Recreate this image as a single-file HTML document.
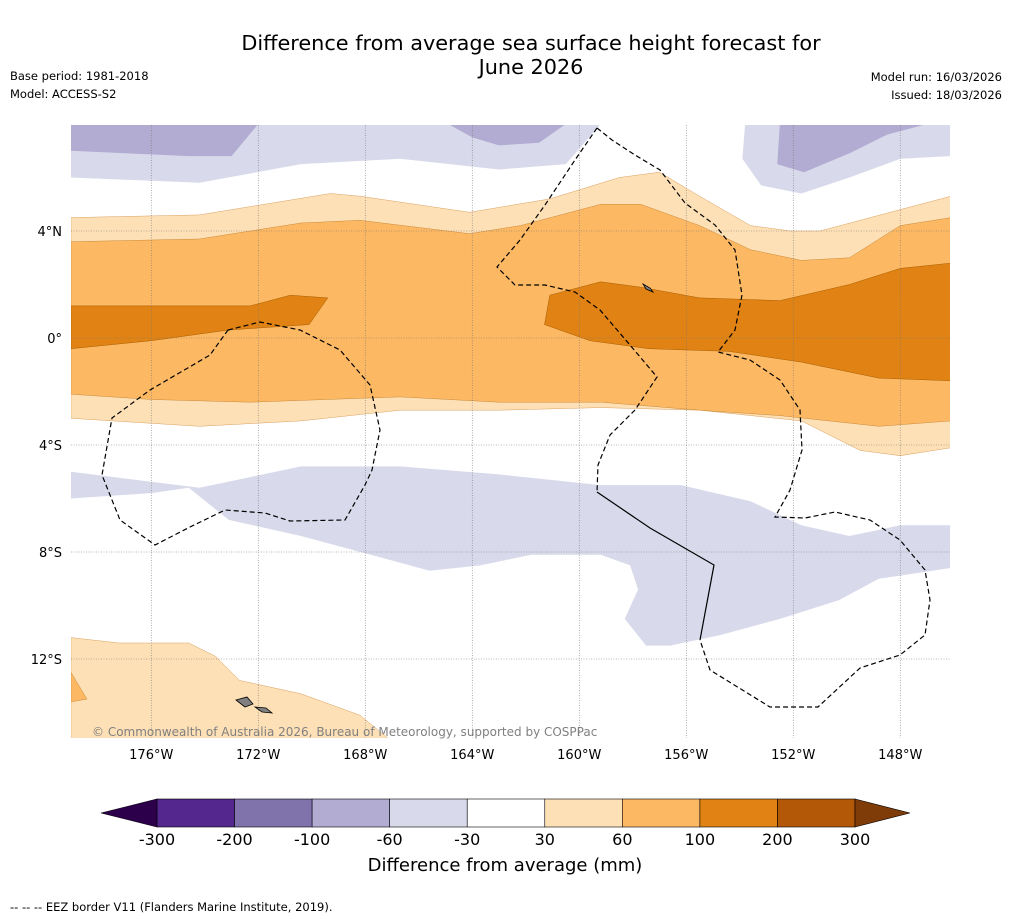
<!DOCTYPE html>
<html><head><meta charset="utf-8"><style>
body{margin:0;background:#fff;width:1011px;height:919px;overflow:hidden;font-family:"Liberation Sans","DejaVu Sans",sans-serif}
svg{display:block}
</style></head><body>
<svg id="chart" width="1011" height="919" viewBox="0 0 1011 919" font-family="DejaVu Sans, Liberation Sans, sans-serif">
<text x="531" y="50" font-size="20.8" text-anchor="middle">Difference from average sea surface height forecast for</text>
<text x="531" y="74" font-size="20.8" text-anchor="middle">June 2026</text>
<text x="10" y="80" font-size="11.5">Base period: 1981-2018</text>
<text x="10" y="98" font-size="11.5">Model: ACCESS-S2</text>
<text x="1002" y="81" font-size="11.5" text-anchor="end">Model run: 16/03/2026</text>
<text x="1002" y="99" font-size="11.5" text-anchor="end">Issued: 18/03/2026</text>
<defs><clipPath id="mapclip"><rect x="71" y="125" width="879" height="613"/></clipPath></defs>
<g id="map" clip-path="url(#mapclip)"></g>
<g id="overlay"></g>
<text x="92" y="736" font-size="12" fill="#808080">© Commonwealth of Australia 2026, Bureau of Meteorology, supported by COSPPac</text>
<g id="axes"></g>
<g id="colorbar"></g>
<text x="505" y="871" font-size="18" text-anchor="middle">Difference from average (mm)</text>
<text x="10" y="911" font-size="11.5">--  --  -- EEZ border V11 (Flanders Marine Institute, 2019).</text>
</svg>
<script>
const xTicks=[-176,-172,-168,-164,-160,-156,-152,-148];
const xTickLabels=["176°W","172°W","168°W","164°W","160°W","156°W","152°W","148°W"];
const yTicks=[4,0,-4,-8,-12];
const yTickLabels=["4°N","0°","4°S","8°S","12°S"];
const cbLevels=["-300","-200","-100","-60","-30","30","60","100","200","300"];
const cbColors=["#54278f","#8073ac","#b2abd2","#d8daeb","#ffffff","#fee0b6","#fdb863","#e08214","#b35806"];
const cbExtendColors=["#2d004b","#7f3b08"];
// contour polygons [lon,lat]
const purpleDarkNW=[[-179,8],[-172,8],[-173,6.8],[-174.6,6.8],[-179,7.0]];
const purpleLightNW=[[-179,8],[-159.2,8],[-160.5,6.5],[-163,6.3],[-166.7,6.7],[-170.4,6.5],[-174.2,5.8],[-179,6.0]];
const purpleDarkN=[[-164.9,8],[-160.5,8],[-161.5,7.3],[-163,7.2],[-164,7.5]];
const purpleLightNE=[[-153.8,8],[-146.1,8],[-146.1,6.8],[-148,6.7],[-149.9,6.0],[-151.7,5.4],[-153.2,5.7],[-153.9,6.7]];
const purpleDarkNE=[[-152.5,8],[-146.1,8],[-147,8],[-148.5,7.6],[-149.9,6.9],[-151.6,6.2],[-152.6,6.5]];
const orangeLight=[[-179,4.5],[-174.2,4.6],[-169.3,5.4],[-168.2,5.3],[-164.1,4.7],[-161.1,5.2],[-158.5,6.0],[-157,6.2],[-155.5,5.3],[-153.6,4.2],[-152.1,4.0],[-151,4.0],[-148,4.8],[-146.1,5.3],
 [-146.1,-4.1],[-148,-4.4],[-149.5,-4.2],[-151.7,-3.1],[-155.5,-2.7],[-159.2,-2.6],[-163,-2.7],[-166.7,-2.7],[-170.4,-3.1],[-174.2,-3.3],[-179,-3.0]];
const orangeMid=[[-179,3.6],[-174.2,3.7],[-170.4,4.3],[-168.2,4.4],[-164.1,3.9],[-162.2,4.2],[-159.2,5.0],[-157.7,5.0],[-155.5,4.2],[-153.6,3.3],[-151.7,2.9],[-149.9,3.0],[-148,4.2],[-146.1,4.5],
 [-146.1,-3.1],[-148.8,-3.3],[-152.5,-2.9],[-155.5,-2.7],[-159.2,-2.4],[-163,-2.4],[-166.7,-2.2],[-172.3,-2.4],[-176,-2.3],[-179,-2.1]];
const orangeDarkW=[[-179,1.2],[-172.3,1.2],[-170.8,1.6],[-169.4,1.5],[-170.1,0.5],[-173.1,0.3],[-176,-0.1],[-179,-0.4]];
const orangeDarkE=[[-161.1,1.6],[-159.2,2.1],[-157.7,1.9],[-155.5,1.5],[-152.5,1.4],[-149.9,2.0],[-148,2.6],[-146.1,2.8],[-146.1,-1.6],[-148.8,-1.5],[-151.7,-0.9],[-154.4,-0.5],[-157.4,-0.4],[-159.6,-0.1],[-161.3,0.5]];
const purpleSouth=[[-179,-5.0],[-174.2,-5.6],[-170.4,-4.8],[-166.7,-4.8],[-163,-5.1],[-159.2,-5.5],[-156.2,-5.5],[-153.6,-6.1],[-151.7,-7.0],[-149.9,-7.4],[-148,-7.0],[-146.1,-7.0],
 [-146.1,-8.6],[-148.8,-9.0],[-150.3,-9.8],[-152.5,-10.5],[-154.7,-11.1],[-156.6,-11.5],[-157.5,-11.5],[-158.3,-10.5],[-157.8,-9.4],[-158.1,-8.5],[-159.2,-8.1],[-161.8,-8.1],[-163.7,-8.5],[-165.6,-8.7],[-167.8,-8.1],[-170.4,-7.4],[-173.1,-6.8],[-174.6,-5.6],[-176,-5.8],[-179,-6.0]];
const orangeLightSW=[[-179,-11.2],[-177.2,-11.4],[-174.6,-11.4],[-173.6,-11.9],[-172.7,-12.8],[-170.4,-13.3],[-168.2,-14.1],[-167.1,-15],[-179,-15]];
const orangeMidSW=[[-179,-12.5],[-178.4,-13.5],[-179,-13.6]];
const lon0=-179,lonScale=26.75,x0=71,y0=338;
const X=lon=>x0+(lon-lon0)*lonScale;
const Y=lat=>y0-lat*lonScale;
const NS="http://www.w3.org/2000/svg";
const map=document.getElementById('map');
function poly(parent,pts,fill,name,stroke){
  const p=document.createElementNS(NS,'polygon');
  p.setAttribute('points',pts.map(d=>X(d[0]).toFixed(1)+','+Y(d[1]).toFixed(1)).join(' '));
  p.setAttribute('fill',fill);
  p.setAttribute('stroke',stroke||'none');p.setAttribute('stroke-width','0.5');p.setAttribute('stroke-linejoin','round');
  
  
  parent.appendChild(p);
}
poly(map,purpleLightNW,cbColors[3],'contour-minus30-northwest');
poly(map,purpleDarkNW,cbColors[2],'contour-minus60-northwest');
poly(map,purpleDarkN,cbColors[2],'contour-minus60-north');
poly(map,purpleLightNE,cbColors[3],'contour-minus30-northeast');
poly(map,purpleDarkNE,cbColors[2],'contour-minus60-northeast');
poly(map,orangeLight,cbColors[5],'contour-30-band','#d9a060');
poly(map,orangeMid,cbColors[6],'contour-60-band','#c98a3a');
poly(map,orangeDarkW,cbColors[7],'contour-100-west','#a85e00');
poly(map,orangeDarkE,cbColors[7],'contour-100-east','#a85e00');
poly(map,purpleSouth,cbColors[3],'contour-minus30-south');
poly(map,orangeLightSW,cbColors[5],'contour-30-southwest','#d9a060');
poly(map,orangeMidSW,cbColors[6],'contour-60-southwest','#c98a3a');
const ov=document.getElementById('overlay');
const axes=document.getElementById('axes');
xTicks.forEach((t,i)=>{
  const l=document.createElementNS(NS,'line');
  l.setAttribute('x1',X(t));l.setAttribute('x2',X(t));l.setAttribute('y1',125);l.setAttribute('y2',738);
  l.setAttribute('stroke','#777');l.setAttribute('stroke-width','0.6');l.setAttribute('stroke-dasharray','1,1.5');
  
  
  ov.appendChild(l);
  const tx=document.createElementNS(NS,'text');
  tx.setAttribute('x',X(t));tx.setAttribute('y',759);tx.setAttribute('font-size','13');tx.setAttribute('text-anchor','middle');
  tx.textContent=xTickLabels[i];
  
  
  axes.appendChild(tx);
});
yTicks.forEach((t,i)=>{
  const l=document.createElementNS(NS,'line');
  l.setAttribute('y1',Y(t));l.setAttribute('y2',Y(t));l.setAttribute('x1',71);l.setAttribute('x2',950);
  l.setAttribute('stroke','#777');l.setAttribute('stroke-width','0.6');l.setAttribute('stroke-dasharray','1,1.5');
  
  
  ov.appendChild(l);
  const tx=document.createElementNS(NS,'text');
  tx.setAttribute('x',62);tx.setAttribute('y',Y(t)+5);tx.setAttribute('font-size','13');tx.setAttribute('text-anchor','end');
  tx.textContent=yTickLabels[i];
  
  
  axes.appendChild(tx);
});
function path(d,name,dash){
  const p=document.createElementNS(NS,'path');
  p.setAttribute('d',d);p.setAttribute('fill','none');p.setAttribute('stroke','#000');p.setAttribute('stroke-width','1.2');
  if(dash)p.setAttribute('stroke-dasharray','5,3');
  
  
  ov.appendChild(p);
}
path('M597,128 L612,140 L635,155 L660,170 L685,203 L715,225 L735,250 L742,295 L735,330 L718,352 L750,360 L780,380 L800,410 L802,450 L790,490 L775,517 L805,518 L835,512 L870,520 L900,540 L925,570 L930,600 L925,635 L900,655 L860,668 L818,707 L770,707 L710,670 L700,640','eez-border-east',true);
path('M597,128 L575,160 L545,205 L520,240 L497,267 L515,285 L545,285 L575,292 L600,310 L630,345 L657,377 L635,410 L610,435 L598,465 L597,492','eez-border-central',true);
path('M597,492 L650,528 L714,565 L700,640','maritime-boundary',false);
path('M228,330 L260,322 L300,330 L340,350 L370,385 L380,430 L372,470 L365,485 L345,520 L290,521 L265,513 L225,510 L190,527 L155,545 L120,520 L102,475 L112,418 L150,390 L210,355 Z','eez-border-west',true);
[['M236,700 L247,697 L253,704 L245,707 Z','island-savaii'],['M255,707 L266,708 L272,713 L262,712 Z','island-upolu'],['M643,284 L650,288 L653,292 L646,289 Z','island-kiritimati']].forEach(a=>{
  const p=document.createElementNS(NS,'path');p.setAttribute('d',a[0]);p.setAttribute('fill','#808080');p.setAttribute('stroke','#000');p.setAttribute('stroke-width','0.8');
  
  
  ov.appendChild(p);
});
const cb=document.getElementById('colorbar');
const cbX0=157,cbW=698,cbY=799,cbH=28,bw=cbW/cbColors.length;
cbColors.forEach((c,i)=>{
  const r=document.createElementNS(NS,'rect');
  r.setAttribute('x',cbX0+i*bw);r.setAttribute('y',cbY);r.setAttribute('width',bw);r.setAttribute('height',cbH);
  r.setAttribute('fill',c);r.setAttribute('stroke','#000');r.setAttribute('stroke-width','0.6');
  
  
  cb.appendChild(r);
});
[[`${cbX0},${cbY} ${cbX0},${cbY+cbH} 101,${cbY+cbH/2}`,cbExtendColors[0],'colorbar-extend-low'],
 [`${cbX0+cbW},${cbY} ${cbX0+cbW},${cbY+cbH} 910,${cbY+cbH/2}`,cbExtendColors[1],'colorbar-extend-high']].forEach(a=>{
  const p=document.createElementNS(NS,'polygon');p.setAttribute('points',a[0]);p.setAttribute('fill',a[1]);p.setAttribute('stroke','#000');p.setAttribute('stroke-width','0.6');
  
  
  cb.appendChild(p);
});
cbLevels.forEach((lv,i)=>{
  const t=document.createElementNS(NS,'text');
  t.setAttribute('x',cbX0+i*bw);t.setAttribute('y',845);t.setAttribute('font-size','16');t.setAttribute('text-anchor','middle');
  t.textContent=lv;
  
  
  cb.appendChild(t);
});
</script>
</body></html>
